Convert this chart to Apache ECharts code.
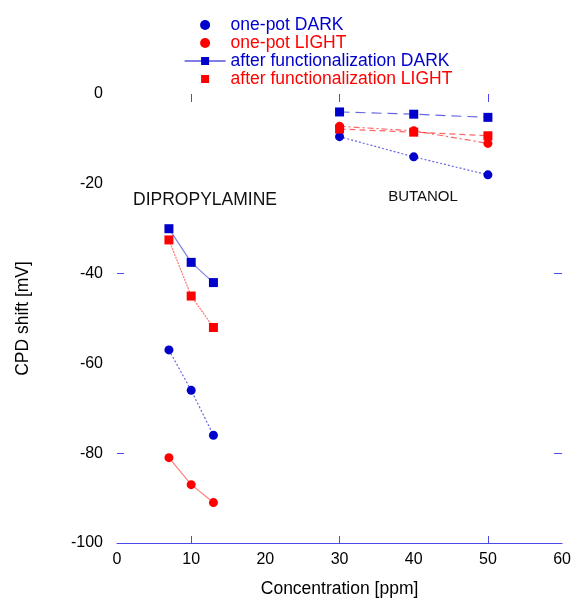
<!DOCTYPE html>
<html>
<head>
<meta charset="utf-8">
<script src="https://cdn.jsdelivr.net/npm/echarts@6/dist/echarts.min.js"></script>
<style>html,body{margin:0;padding:0;background:#fff;}#c{width:574px;height:603px;}</style>
</head>
<body>
<div id="c"></div>
<script>
// Concentrations [ppm]
const dipropylamineConc = [7, 10, 13];
const butanolConc = [30, 40, 50];
// CPD shift [mV]
const onePotDarkDip = [-57, -66, -76];
const onePotLightDip = [-81, -87, -91];
const afterDarkDip = [-30, -37.5, -42];
const afterLightDip = [-32.5, -45, -52];
const onePotDarkBut = [-9.5, -14, -18];
const onePotLightBut = [-7.2, -8.2, -11];
const afterDarkBut = [-4, -4.5, -5.2];
const afterLightBut = [-7.8, -8.5, -9.3];
const seriesNames = ['one-pot DARK', 'one-pot LIGHT', 'after functionalization DARK', 'after functionalization LIGHT'];
const xTicks = [0, 10, 20, 30, 40, 50, 60];
const yTicks = [-100, -80, -60, -40, -20, 0];
const xMarks = [10, 30, 50];
const yMarks = [-40, -80];

const BLUE = '#0000cc', RED = '#ff0000', AXIS = '#4a4ae8';
const FONT = 'Liberation Sans, Arial, sans-serif';

function pairs(xs, ys) { return xs.map((x, i) => [x, ys[i]]); }
function mk(name, xs, ys, color, symbol, lineType, opacity) {
  return {
    name: name, type: 'line', data: pairs(xs, ys),
    symbol: symbol, symbolSize: 9, symbolKeepAspect: true,
    itemStyle: { color: color },
    lineStyle: { color: color, width: 1.2, type: lineType, opacity: opacity },
    emphasis: { disabled: true }, animation: false
  };
}

const chart = echarts.init(document.getElementById('c'), null, { renderer: 'canvas' });
chart.setOption({
  animation: false,
  textStyle: { fontFamily: FONT },
  grid: { left: 117, right: 9, top: 94, bottom: 58, containLabel: false },
  legend: {
    orient: 'vertical', left: 179, top: 11, itemWidth: 41, itemHeight: 10, itemGap: 0,
    selectedMode: false,
    textStyle: { fontSize: 17.5, fontFamily: FONT },
    data: [
      { name: seriesNames[0], icon: 'circle', textStyle: { color: BLUE }, itemStyle: { color: BLUE } },
      { name: seriesNames[1], icon: 'circle', textStyle: { color: RED }, itemStyle: { color: RED } },
      { name: seriesNames[2], textStyle: { color: BLUE }, lineStyle: { type: 'solid', color: BLUE, width: 1.2, opacity: 1 } },
      { name: seriesNames[3], textStyle: { color: RED }, lineStyle: { width: 0, opacity: 0 } }
    ]
  },
  xAxis: [{
    type: 'value', position: 'bottom', min: xTicks[0], max: xTicks[xTicks.length - 1], interval: 10,
    axisLine: { show: true, onZero: false, lineStyle: { color: AXIS, width: 1 } },
    axisTick: { show: true, inside: true, length: 7, customValues: xMarks, lineStyle: { color: AXIS, width: 1 } },
    axisLabel: { fontSize: 16, color: '#000', margin: 9, fontFamily: FONT },
    splitLine: { show: false },
    name: 'Concentration [ppm]', nameLocation: 'middle', nameGap: 37,
    nameTextStyle: { fontSize: 17.5, color: '#000', fontFamily: FONT }
  }, {
    type: 'value', position: 'top', min: xTicks[0], max: xTicks[xTicks.length - 1], interval: 10,
    axisLine: { show: false, onZero: false, lineStyle: { color: AXIS } },
    axisTick: { show: true, inside: true, length: 8, customValues: xMarks, lineStyle: { color: AXIS, width: 1 } },
    axisLabel: { show: false }, splitLine: { show: false }
  }],
  yAxis: [{
    type: 'value', position: 'left', min: yTicks[0], max: yTicks[yTicks.length - 1], interval: 20,
    axisLine: { show: false, onZero: false, lineStyle: { color: AXIS } },
    axisTick: { show: true, inside: true, length: 7, customValues: yMarks, lineStyle: { color: AXIS, width: 1 } },
    axisLabel: { fontSize: 16, color: '#000', margin: 14, fontFamily: FONT },
    splitLine: { show: false },
    name: 'CPD shift [mV]', nameLocation: 'middle', nameGap: 85,
    nameTextStyle: { fontSize: 17.5, color: '#000', fontFamily: FONT }
  }, {
    type: 'value', position: 'right', min: yTicks[0], max: yTicks[yTicks.length - 1], interval: 20,
    axisLine: { show: false, onZero: false, lineStyle: { color: AXIS } },
    axisTick: { show: true, inside: true, length: 8, customValues: yMarks, lineStyle: { color: AXIS, width: 1 } },
    axisLabel: { show: false }, splitLine: { show: false }
  }],
  graphic: [
    { type: 'text', x: 205, y: 200, silent: true,
      style: { text: 'DIPROPYLAMINE', font: '17.5px ' + FONT, fill: '#111', textAlign: 'center', textVerticalAlign: 'middle', align: 'center', verticalAlign: 'middle' } },
    { type: 'text', x: 423, y: 197, silent: true,
      style: { text: 'BUTANOL', font: '15px ' + FONT, fill: '#111', textAlign: 'center', textVerticalAlign: 'middle', align: 'center', verticalAlign: 'middle' } }
  ],
  series: [
    mk(seriesNames[0], dipropylamineConc, onePotDarkDip, BLUE, 'circle', [2, 2], 0.6),
    mk(seriesNames[1], dipropylamineConc, onePotLightDip, RED, 'circle', 'solid', 0.5),
    mk(seriesNames[2], dipropylamineConc, afterDarkDip, BLUE, 'rect', 'solid', 0.5),
    mk(seriesNames[3], dipropylamineConc, afterLightDip, RED, 'rect', [2, 1], 0.55),
    mk(seriesNames[0], butanolConc, onePotDarkBut, BLUE, 'circle', [2, 2], 0.6),
    mk(seriesNames[1], butanolConc, onePotLightBut, RED, 'circle', [6, 3, 2, 3], 0.6),
    mk(seriesNames[2], butanolConc, afterDarkBut, BLUE, 'rect', [10, 6], 0.6),
    mk(seriesNames[3], butanolConc, afterLightBut, RED, 'rect', [6, 4], 0.6)
  ]
});
</script>
</body>
</html>
